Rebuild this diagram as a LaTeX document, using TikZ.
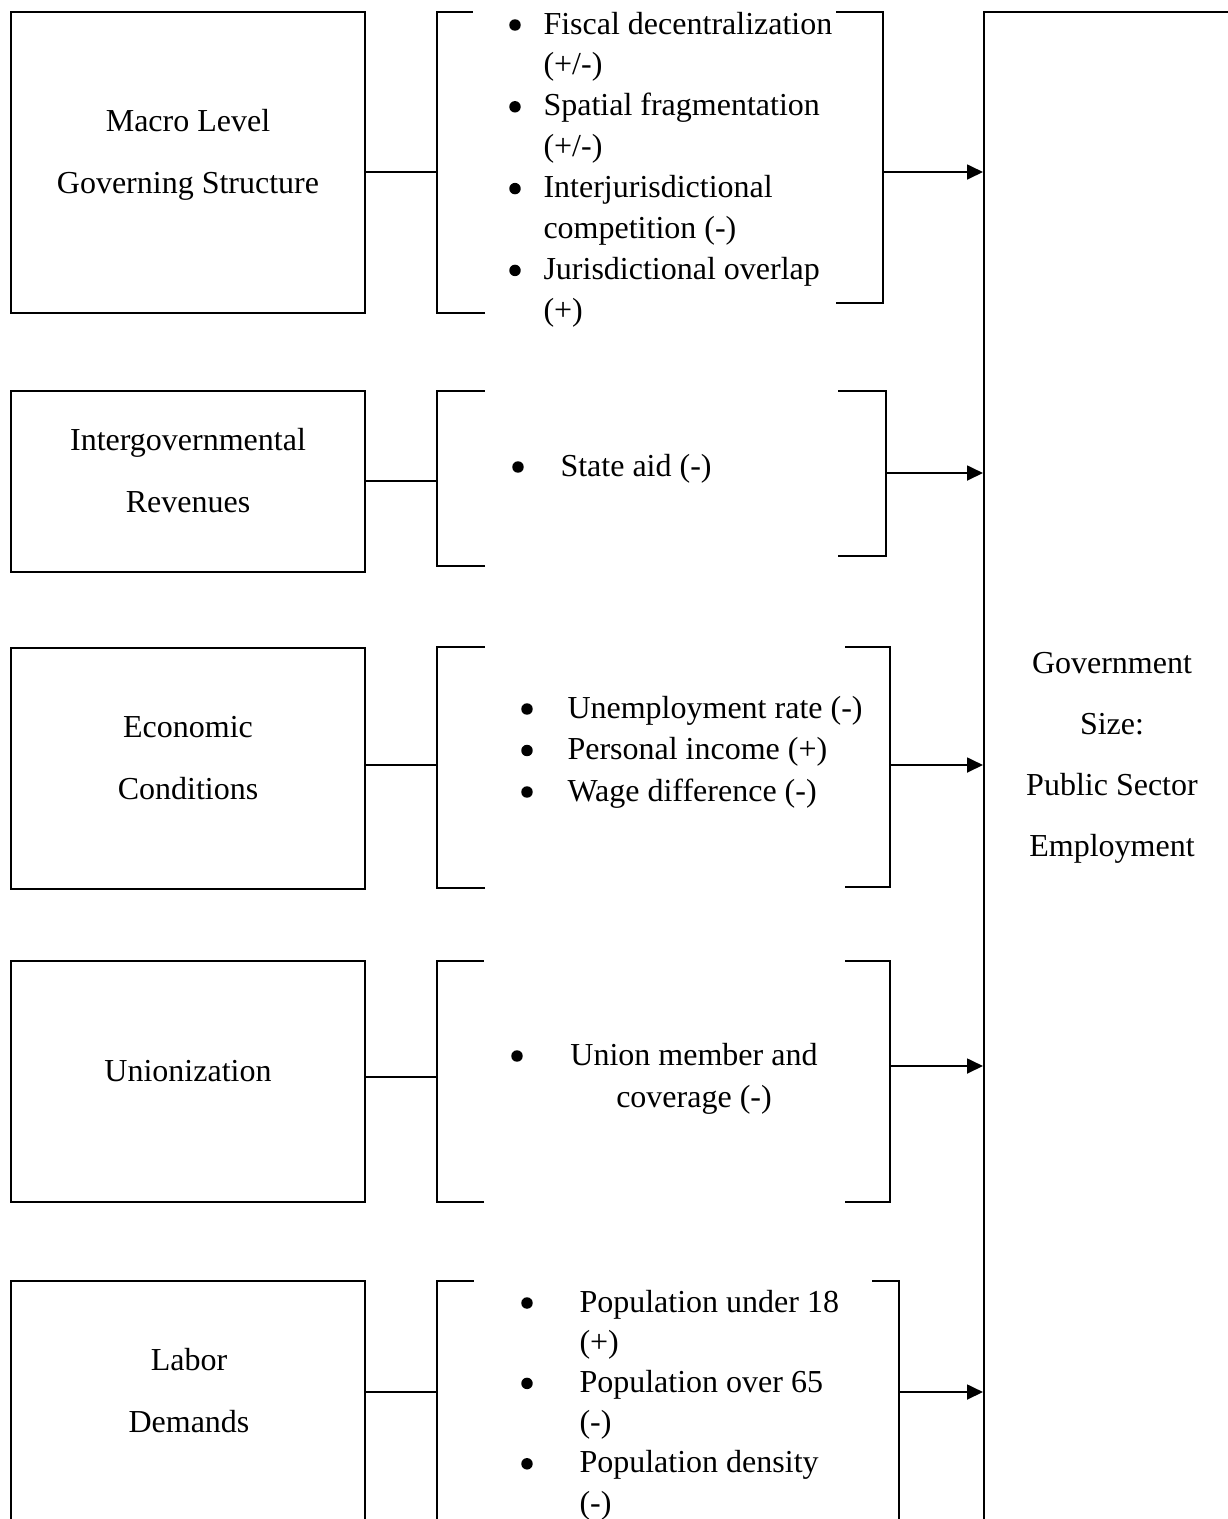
\documentclass[tikz,border=0pt]{standalone}
\usepackage{fontspec}
\setmainfont{Liberation Serif}
\usetikzlibrary{arrows.meta}

\tikzset{
  factor/.style={draw,line width=0.75pt,inner sep=0pt,minimum width=132.75pt,minimum height=#1},
  brkt/.style={line width=0.4pt},
  feed/.style={line width=0.4pt},
  effect/.style={line width=0.75pt,-{Triangle[length=6pt,width=5.6pt]}},
  item/.style={anchor=base west,inner sep=0pt,font=\fontsize{12}{14}\selectfont},
  ctr/.style={anchor=base,inner sep=0pt,font=\fontsize{12}{14}\selectfont},
  dot/.style={circle,fill,inner sep=0pt,minimum size=4.3pt},
}

\begin{document}
\begin{tikzpicture}[x=0.375pt,y=-0.375pt]
  \useasboundingbox (0,0) rectangle (1228,1519);
  \clip (0,0) rectangle (1228,1519);

  % determinant boxes
  \node[factor=112.875pt] (macro) at (188,162.5) {};
  \node[factor=67.875pt] (intergov) at (188,481.5) {};
  \node[factor=90.375pt] (econ) at (188,768.5) {};
  \node[factor=90.375pt] (union) at (188,1081.5) {};
  \node[factor=90.375pt] (labor) at (188,1401.5) {};
  % outcome box, runs off the page
  \node[factor=603pt,minimum width=118.5pt] (size) at (1142,816) {};

  \foreach[count=\i,evaluate={131+62*(\i-1)} as \y] \l in {Macro Level,Governing Structure}
    \node[ctr] (macro-\i) at (188,\y) {\l};
  \foreach[count=\i,evaluate={450+62*(\i-1)} as \y] \l in {Intergovernmental,Revenues}
    \node[ctr] (intergov-\i) at (188,\y) {\l};
  \foreach[count=\i,evaluate={737+62*(\i-1)} as \y] \l in {Economic,Conditions}
    \node[ctr] (econ-\i) at (188,\y) {\l};
  \node[ctr] (union-1) at (188,1081) {Unionization};
  \foreach[count=\i,evaluate={1370+62*(\i-1)} as \y] \l in {Labor,Demands}
    \node[ctr] (labor-\i) at (189,\y) {\l};
  \foreach[count=\i,evaluate={673+61.3*(\i-1)} as \y] \l in {Government,Size:,Public Sector,Employment}
    \node[ctr] (size-\i) at (1112,\y) {\l};

  % bullet lists
  \foreach[count=\i,evaluate={34+40.9*(\i-1)} as \y] \l in {Fiscal decentralization,(+/-),Spatial fragmentation,(+/-),Interjurisdictional,competition (-),Jurisdictional overlap,(+)}
    \node[item] (macro-l\i) at (543,\y) {\l};
  \foreach \i in {1,3,5,7}
    \node[dot] (macro-d\i) at (515,{25+40.9*(\i-1)}) {};

  \node[dot] (intergov-d1) at (518,467) {};
  \node[item] (intergov-l1) at (560,476) {State aid (-)};

  \foreach[count=\i,evaluate={718+41.5*(\i-1)} as \y] \l in {Unemployment rate (-),Personal income (+),Wage difference (-)} {
    \node[dot] (econ-d\i) at (527,{\y-9}) {};
    \node[item] (econ-l\i) at (567,\y) {\l};
  }

  \node[dot] (union-d1) at (517,1056) {};
  \foreach[count=\i,evaluate={1065+42*(\i-1)} as \y] \l in {Union member and,coverage (-)}
    \node[ctr] (union-l\i) at (694,\y) {\l};

  \foreach[count=\i,evaluate={1312+40.2*(\i-1)} as \y] \l in {Population under 18,(+),Population over 65,(-),Population density,(-)}
    \node[item] (labor-l\i) at (579,\y) {\l};
  \foreach \i in {1,3,5}
    \node[dot] (labor-d\i) at (527,{1303+40.2*(\i-1)}) {};

  % brackets, links and arrows
  \foreach \nm/\ya/\yb/\xa/\xb/\xr/\xt/\yc/\fy/\ay in {
      macro/12/313/473/485/883/836/303/172/172,
      intergov/391/566/485/485/886/838/556/481/473,
      econ/647/888/485/485/890/845/887/765/765,
      union/961/1202/484/484/890/845/1202/1077/1066,
      labor/1281/1540/474/474/899/872/1540/1392/1392} {
    \draw[brkt] (\xb,\yb) -| (437,\ya) -- (\xa,\ya);
    \draw[brkt] (\xt,\ya) -| (\xr,\yc) -- (\xt,\yc);
    \coordinate (\nm-in) at (437,\fy);
    \coordinate (\nm-out) at (\xr,\ay);
    \draw[feed] (\nm.east |- \nm-in) -- (\nm-in);
    \draw[effect] (\nm-out) -- (\nm-out -| size.west);
  }
\end{tikzpicture}
\end{document}
